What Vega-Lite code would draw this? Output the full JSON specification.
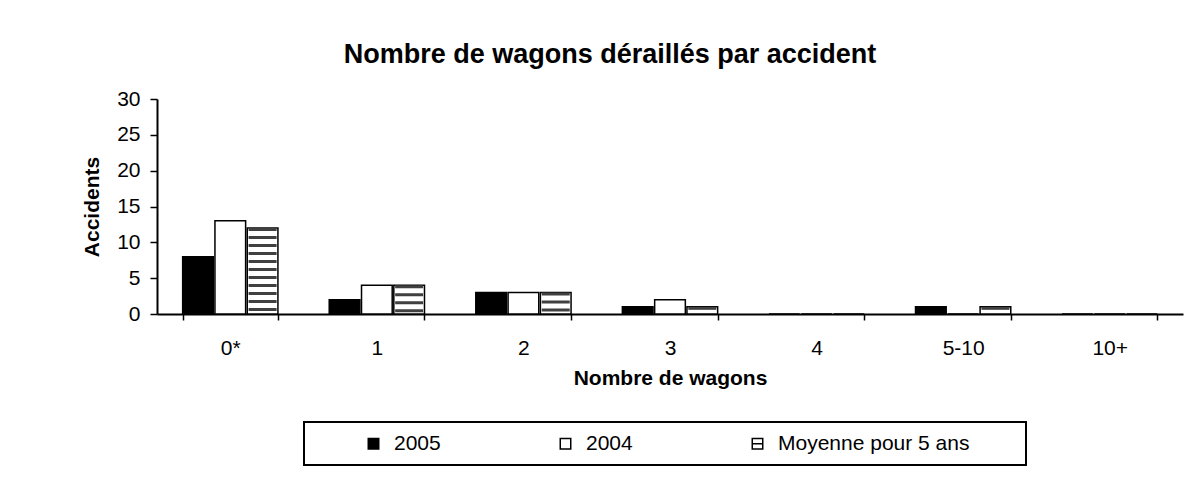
{
  "$schema": "https://vega.github.io/schema/vega-lite/v6.json",
  "autosize": "none",
  "width": 1026,
  "height": 215,
  "padding": {"left": 157, "top": 99, "right": 10, "bottom": 169},
  "background": "white",
  "config": {"view": {"stroke": null}, "font": "Liberation Sans"},
  "title": {
    "text": "Nombre de wagons déraillés par accident",
    "font": "Liberation Sans",
    "fontSize": 27,
    "fontWeight": "bold",
    "color": "black",
    "anchor": "middle",
    "dx": -60,
    "dy": 37,
    "offset": 35,
    "baseline": "alphabetic"
  },
  "data": {
    "values": [
      {"wagons": "0*", "serie": "2005", "accidents": 8},
      {"wagons": "0*", "serie": "2004", "accidents": 13},
      {"wagons": "0*", "serie": "Moyenne pour 5 ans", "accidents": 12},
      {"wagons": "1", "serie": "2005", "accidents": 2},
      {"wagons": "1", "serie": "2004", "accidents": 4},
      {"wagons": "1", "serie": "Moyenne pour 5 ans", "accidents": 4},
      {"wagons": "2", "serie": "2005", "accidents": 3},
      {"wagons": "2", "serie": "2004", "accidents": 3},
      {"wagons": "2", "serie": "Moyenne pour 5 ans", "accidents": 3},
      {"wagons": "3", "serie": "2005", "accidents": 1},
      {"wagons": "3", "serie": "2004", "accidents": 2},
      {"wagons": "3", "serie": "Moyenne pour 5 ans", "accidents": 1},
      {"wagons": "4", "serie": "2005", "accidents": 0},
      {"wagons": "4", "serie": "2004", "accidents": 0},
      {"wagons": "4", "serie": "Moyenne pour 5 ans", "accidents": 0},
      {"wagons": "5-10", "serie": "2005", "accidents": 1},
      {"wagons": "5-10", "serie": "2004", "accidents": 0},
      {"wagons": "5-10", "serie": "Moyenne pour 5 ans", "accidents": 1},
      {"wagons": "10+", "serie": "2005", "accidents": 0},
      {"wagons": "10+", "serie": "2004", "accidents": 0},
      {"wagons": "10+", "serie": "Moyenne pour 5 ans", "accidents": 0}
    ]
  },
  "encoding": {
    "x": {
      "field": "wagons",
      "type": "nominal",
      "sort": ["0*", "1", "2", "3", "4", "5-10", "10+"],
      "scale": {"paddingInner": 0.35, "paddingOuter": 0.175},
      "axis": {
        "title": "Nombre de wagons",
        "labelAngle": 0,
        "tickBand": "extent",
        "tickSize": 6,
        "tickWidth": 1.5,
        "tickColor": "black",
        "domainColor": "black",
        "domainWidth": 2,
        "labelPadding": 17,
        "labelFontSize": 21,
        "labelColor": "black",
        "titleFontSize": 21,
        "titleFontWeight": "bold",
        "titleColor": "black",
        "titlePadding": 9
      }
    },
    "xOffset": {
      "field": "serie",
      "type": "nominal",
      "sort": ["2005", "2004", "Moyenne pour 5 ans"],
      "scale": {"paddingInner": 0.05}
    },
    "y": {
      "field": "accidents",
      "type": "quantitative",
      "scale": {"domain": [0, 30], "nice": false},
      "axis": {
        "title": "Accidents",
        "values": [0, 5, 10, 15, 20, 25, 30],
        "grid": false,
        "tickSize": 7,
        "tickWidth": 1.5,
        "tickColor": "black",
        "domainColor": "black",
        "domainWidth": 2,
        "labelPadding": 10,
        "labelFontSize": 21,
        "labelColor": "black",
        "titleFontSize": 21,
        "titleFontWeight": "bold",
        "titleColor": "black",
        "titlePadding": 14
      }
    }
  },
  "layer": [
    {
      "mark": {"type": "bar", "stroke": "black", "strokeWidth": 1.5},
      "encoding": {
        "fill": {
          "field": "serie",
          "type": "nominal",
          "scale": {"domain": ["2005", "2004", "Moyenne pour 5 ans"], "range": ["black", "white", "white"]},
          "legend": {
            "orient": "none",
            "legendX": 147,
            "legendY": 323,
            "direction": "horizontal",
            "title": "\u00a0",
            "titleOrient": "left",
            "titleFontSize": 21,
            "titlePadding": 48,
            "padding": 11,
            "strokeColor": "black",
            "labelFontSize": 21,
            "labelColor": "black",
            "labelOffset": 10,
            "labelLimit": 400,
            "labelExpr": "datum.label == 'Moyenne pour 5 ans' ? datum.label + '\u2800\u2800\u2800' : datum.label",
            "symbolType": "square",
            "symbolSize": 110,
            "symbolStrokeColor": "black",
            "symbolStrokeWidth": 1.5,
            "columnPadding": 114,
            "encode": {
              "legend": {"update": {"strokeWidth": {"value": 2}}},
              "symbols": {"update": {"shape": {"signal": "datum.value === 'Moyenne pour 5 ans' ? 'M-1,-1H1V1H-1ZM-1,0H1' : 'square'"}}}
            }
          }
        }
      }
    },
    {
      "transform": [{"filter": "datum.serie == 'Moyenne pour 5 ans'"}],
      "mark": {"type": "rule", "color": "#404040", "strokeWidth": 28, "strokeDash": [3, 5], "strokeCap": "butt"},
      "encoding": {
        "y2": {"datum": 0}
      }
    }
  ]
}
